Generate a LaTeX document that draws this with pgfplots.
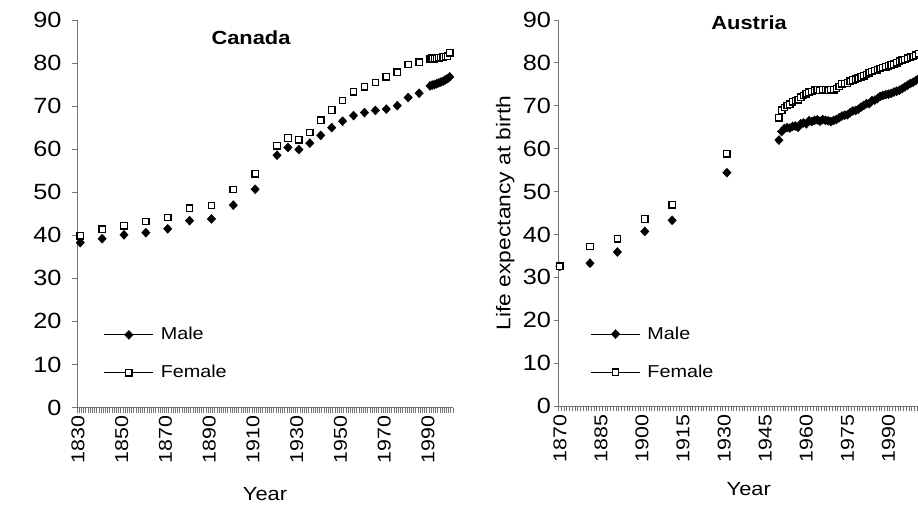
\documentclass[border=0pt]{standalone}
\usepackage{pgfplots}
\pgfplotsset{compat=1.18}
\usepackage{fontspec}
\setmainfont{Liberation Sans}
\newfontfamily\wfont[FakeStretch=1.15]{Liberation Sans}
\pgfplotstableread{
year male
1831 38.3
1841 39.2
1851 40.1
1861 40.6
1871 41.5
1881 43.4
1891 43.8
1901 47.0
1911 50.7
1921 58.6
1926 60.4
1931 59.9
1936 61.4
1941 63.2
1946 65.0
1951 66.5
1956 67.8
1961 68.5
1966 69.0
1971 69.3
1976 70.1
1981 72.0
1986 73.0
1991 74.7
1992 74.9
1993 75.0
1994 75.2
1995 75.4
1996 75.6
1997 75.8
1998 76.1
1999 76.4
2000 76.8
}\canmale
\pgfplotstableread{
year female
1831 39.9
1841 41.4
1851 42.2
1861 43.2
1871 44.1
1881 46.3
1891 46.9
1901 50.6
1911 54.3
1921 60.8
1926 62.6
1931 62.2
1936 63.9
1941 66.7
1946 69.1
1951 71.3
1956 73.3
1961 74.5
1966 75.5
1971 76.8
1976 77.9
1981 79.7
1986 80.2
1991 81.0
1992 81.1
1993 81.0
1994 81.1
1995 81.2
1996 81.3
1997 81.4
1998 81.5
1999 81.6
2000 82.4
}\canfemale
\pgfplotstableread{
year male
1870 32.6
1881 33.3
1891 35.9
1901 40.7
1911 43.3
1931 54.4
1950 62.0
1951 64.0
1952 64.7
1953 64.9
1954 64.8
1955 65.2
1956 65.3
1957 65.0
1958 65.8
1959 66.0
1960 65.8
1961 66.5
1962 66.3
1963 66.6
1964 66.7
1965 66.4
1966 66.8
1967 66.6
1968 66.5
1969 66.3
1970 66.6
1971 66.8
1972 67.2
1973 67.6
1974 67.8
1975 67.9
1976 68.4
1977 68.8
1978 68.9
1979 69.2
1980 69.7
1981 70.1
1982 70.5
1983 70.5
1984 71.2
1985 71.3
1986 71.7
1987 72.2
1988 72.4
1989 72.6
1990 72.7
1991 72.9
1992 73.2
1993 73.4
1994 73.6
1995 74.0
1996 74.4
1997 74.8
1998 75.2
1999 75.5
2000 75.9
2001 76.3
}\autmale
\pgfplotstableread{
year female
1870 32.6
1881 37.2
1891 39.0
1901 43.6
1911 46.9
1931 58.8
1950 67.2
1951 69.0
1952 69.6
1953 70.1
1954 70.4
1955 70.9
1956 71.2
1957 71.4
1958 72.0
1959 72.4
1960 72.8
1961 73.2
1962 73.3
1963 73.6
1964 73.7
1965 73.6
1966 73.8
1967 73.7
1968 73.6
1969 73.8
1970 73.7
1971 74.0
1972 74.5
1973 75.1
1974 75.2
1975 75.3
1976 75.7
1977 76.0
1978 76.2
1979 76.4
1980 76.7
1981 77.0
1982 77.3
1983 77.7
1984 78.0
1985 78.2
1986 78.4
1987 78.7
1988 78.9
1989 79.1
1990 79.3
1991 79.5
1992 79.7
1993 80.0
1994 80.4
1995 80.6
1996 80.8
1997 81.1
1998 81.3
1999 81.5
2000 81.8
2001 82.1
}\autfemale
\begin{document}
\begin{tikzpicture}
\useasboundingbox (0pt,0pt) rectangle (918pt,506pt);
\clip (0pt,0pt) rectangle (918pt,506pt);
\pgfplotsset{
  lifeexp/.style={
    scale only axis,
    axis x line*=bottom, axis y line*=left,
    ymin=0, ymax=90, ytick={0,10,...,90},
    tick align=outside,
    major tick length=5pt,
    minor tick length=5pt,
    axis line style={draw=black!55, line width=0.8pt},
    y tick style={draw=black!55, line width=0.8pt},
    major x tick style={draw=none},
    minor x tick style={draw=black!55, line width=0.7pt},
    /pgf/number format/assume math mode=true,
    /pgf/number format/1000 sep={},
    yticklabel style={anchor=east, font=\wfont\fontsize{22}{26}\selectfont},
    xticklabel style={rotate=90, anchor=east, font=\wfont\fontsize{18.6}{22}\selectfont},
    xlabel style={font=\wfont\fontsize{19}{23}\selectfont},
    ylabel style={font=\wfont\fontsize{19.8}{23}\selectfont},
    every axis title shift=0pt,
    title style={font=\wfont\fontsize{19}{23}\selectfont\bfseries, anchor=center},
    legend cell align=left,
    legend style={draw=none, fill=none, inner sep=0pt, outer sep=0pt,
      row sep=20pt, column sep=7pt, font=\wfont\fontsize{17.2}{21}\selectfont,
      nodes={inner sep=0pt, text height=14pt, text depth=4pt}},
  },
  malestyle/.style={only marks, mark=diamond*, mark size=4.5pt,
    mark options={xscale=1.25, fill=black, draw=black},
    legend image code/.code={
      \draw[black, line width=0.8pt] (0pt,0pt) -- (49pt,0pt);
      \draw plot coordinates {(24.5pt,0pt)};}},
  femalestyle/.style={only marks, mark=square*, mark size=3.2pt,
    mark options={fill=white, draw=black, line width=1.3pt},
    legend image code/.code={
      \draw[black, line width=0.8pt] (0pt,0pt) -- (49pt,0pt);
      \draw plot coordinates {(24.5pt,0pt)};}},
}
\begin{axis}[lifeexp,
  at={(77pt,98.5pt)}, anchor=south west,
  width=376pt, height=387.5pt,
  xmin=1829.5, xmax=2001.5,
  xtick={1830,1850,...,1990},
  minor xtick={1829.5,1830.5,...,2001.5},
  yticklabel style={xshift=-7pt},
  title={Canada}, title style={at={(0.4628,0.9553)}},
  xlabel={Year}, xlabel style={at={(0.5,-0.2222)}, anchor=center},
  legend style={at={(0.0718,0.2106)}, anchor=north west},
]
\addplot[malestyle] table[x=year,y=male] {\canmale};
\addlegendentry{Male}
\addplot[femalestyle] table[x=year,y=female] {\canfemale};
\addlegendentry{Female}
\end{axis}
\begin{axis}[lifeexp,
  at={(558.5pt,100pt)}, anchor=south west,
  width=380.6pt, height=386pt,
  xmin=1869.5, xmax=2008.5,
  xtick={1870,1885,...,1990},
  minor xtick={1869.5,1870.5,...,2008.5},
  yticklabel style={xshift=1pt},
  title={Austria}, title style={at={(0.5008,0.993)}},
  xlabel={Year}, xlabel style={at={(0.5,-0.216)}, anchor=center},
  ylabel={Life expectancy at birth}, ylabel style={at={(-0.14,0.5)}, anchor=center},
  legend style={at={(0.0845,0.2096)}, anchor=north west},
]
\addplot[malestyle] table[x=year,y=male] {\autmale};
\addlegendentry{Male}
\addplot[femalestyle] table[x=year,y=female] {\autfemale};
\addlegendentry{Female}
\end{axis}
\end{tikzpicture}
\end{document}
